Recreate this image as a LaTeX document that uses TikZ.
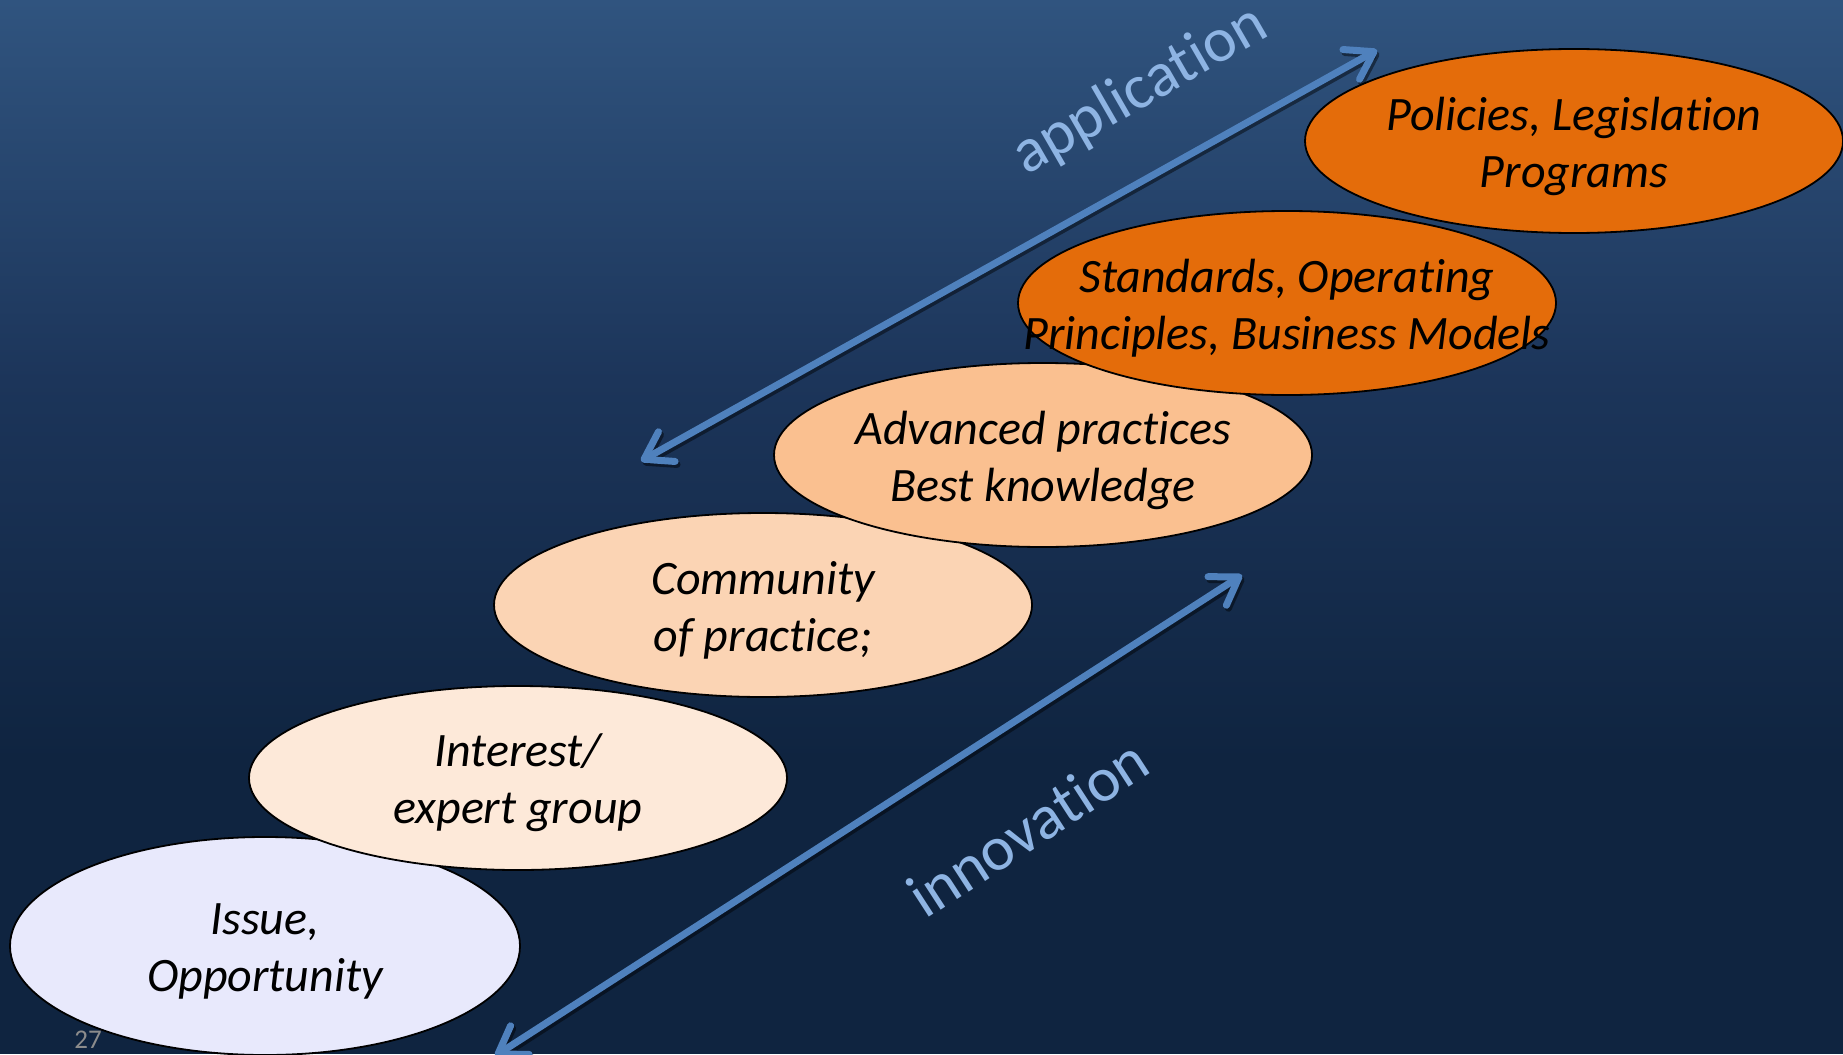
\documentclass[tikz,border=0pt]{standalone}
\usepackage{fontspec}
\setmainfont{Carlito}[Ligatures=NoCommon]
\usetikzlibrary{shapes.geometric,arrows.meta}
\definecolor{bgtop}{HTML}{30547F}
\definecolor{bgmid}{HTML}{1C355A}
\definecolor{bgbot}{HTML}{0F2440}
\definecolor{arrowblue}{HTML}{4F81BD}
\definecolor{lblblue}{HTML}{8EB4E3}
\definecolor{pggray}{HTML}{8C8C8C}
\definecolor{fillA}{HTML}{E8E9FC}
\definecolor{fillB}{HTML}{FDE9D9}
\definecolor{fillC}{HTML}{FBD4B4}
\definecolor{fillD}{HTML}{FAC090}
\definecolor{fillE}{HTML}{E46C0A}
\tikzset{
  blob/.style={ellipse, draw=black, line width=1.8pt, minimum width=538pt, minimum height=184pt, inner sep=0pt},
  lbl/.style={font=\fontsize{48}{57}\selectfont\itshape, align=center, text=black, yshift=-5pt},
  dirlbl/.style={font=\fontsize{63}{72}\selectfont, text=lblblue, inner sep=0pt},
  tipA/.tip={Straight Barb[length=26pt,width=34pt,round]},
  dblarrow/.style={draw=arrowblue, line width=7pt, line cap=round, tipA-tipA},
  arrowshadow/.style={draw=black, opacity=0.45, line width=7pt, line cap=round, tipA-tipA}
}
\begin{document}
\begin{tikzpicture}[x=1pt,y=-1pt]
\useasboundingbox (0,0) rectangle (1843,1054);
\shade[top color=bgtop, bottom color=bgbot, middle color=bgmid] (0,0) rectangle (1843,760);
\fill[bgbot] (0,759) rectangle (1843,1054);
% arrows
\coordinate (appA) at (641,461);
\coordinate (appB) at (1377,50);
\coordinate (innA) at (495,1056);
\coordinate (innB) at (1242,575);
\draw[arrowshadow, transform canvas={shift={(2pt,-3pt)}}] (appA) -- (appB);
\draw[arrowshadow, transform canvas={shift={(2pt,-3pt)}}] (innA) -- (innB);
\draw[dblarrow] (appA) -- (appB);
\draw[dblarrow] (innA) -- (innB);
% ellipses
\node[blob, fill=fillA, minimum width=510pt, minimum height=218pt] (e1) at (265,946) {};
\node[lbl] (t1) at (e1.center) {Issue,\\Opportunity};
\node[blob, fill=fillB] (e2) at (518,778) {};
\node[lbl] (t2) at (e2.center) {Interest/\\expert group};
\node[blob, fill=fillC] (e3) at (763,605) {};
\node[lbl] (t3) at (e3.center) {Community\\of practice;};
\node[blob, fill=fillD] (e4) at (1043,455) {};
\node[lbl] (t4) at (e4.center) {Advanced practices\\Best knowledge};
\node[blob, fill=fillE] (e5) at (1287,303) {};
\node[lbl] (t5) at (e5.center) {Standards, Operating\\Principles, Business Models};
\node[blob, fill=fillE] (e6) at (1574,141) {};
\node[lbl] (t6) at (e6.center) {Policies, Legislation\\Programs};
% direction labels
\node[dirlbl, rotate=30, anchor=base west] (app) at (1026,176) {application};
\node[dirlbl, rotate=33, anchor=base west] (inn) at (925,920) {innovation};
% page number
\node[font=\fontsize{27}{30}\selectfont, text=pggray] (pg) at (88,1040) {27};
\end{tikzpicture}
\end{document}
